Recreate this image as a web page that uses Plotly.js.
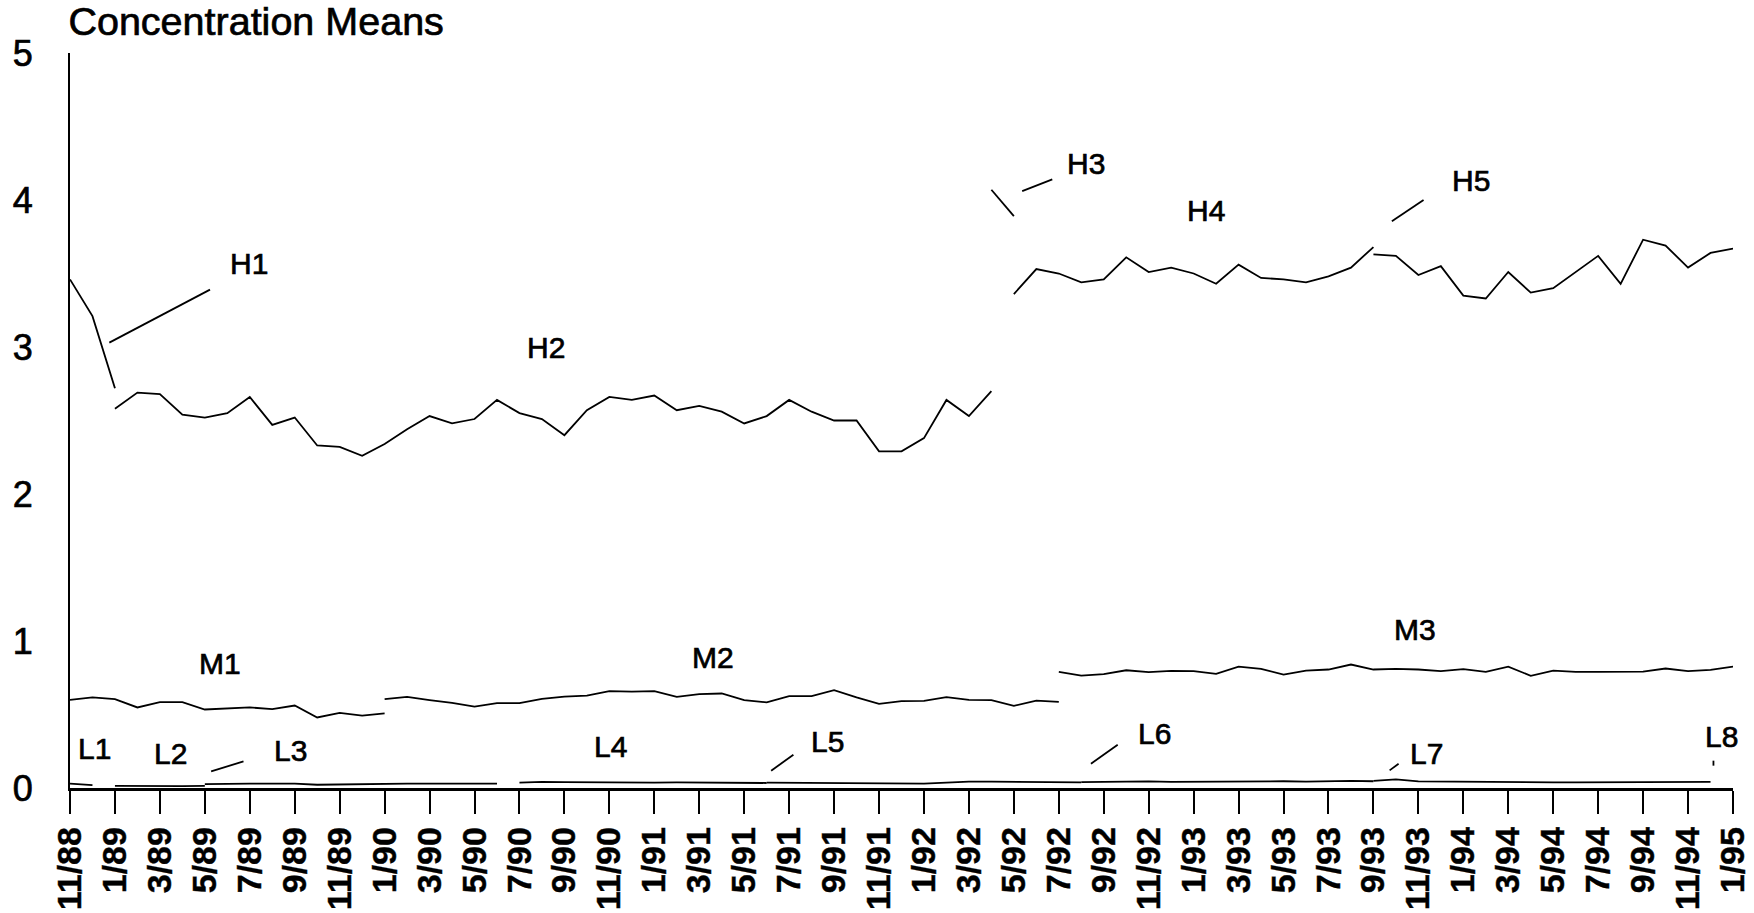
<!DOCTYPE html>
<html>
<head>
<meta charset="utf-8">
<script src="https://cdn.plot.ly/plotly-3.0.1.min.js"></script>
<style>
  html, body { margin: 0; padding: 0; background: #fff; }
  #chart { width: 1754px; height: 913px; }
  #chart .main-svg text { stroke: #000; stroke-width: 0.7px; }
  #chart .main-svg .xtick text { stroke-width: 0.4px; }
</style>
</head>
<body>
<div id="chart"></div>
<script>
// ---- categories (months) ----
const months = [
  '11/88','12/88',
  '1/89','2/89','3/89','4/89','5/89','6/89','7/89','8/89','9/89','10/89','11/89','12/89',
  '1/90','2/90','3/90','4/90','5/90','6/90','7/90','8/90','9/90','10/90','11/90','12/90',
  '1/91','2/91','3/91','4/91','5/91','6/91','7/91','8/91','9/91','10/91','11/91','12/91',
  '1/92','2/92','3/92','4/92','5/92','6/92','7/92','8/92','9/92','10/92','11/92','12/92',
  '1/93','2/93','3/93','4/93','5/93','6/93','7/93','8/93','9/93','10/93','11/93','12/93',
  '1/94','2/94','3/94','4/94','5/94','6/94','7/94','8/94','9/94','10/94','11/94','12/94',
  '1/95'
];
const tickLabels = [
  '11/88','1/89','3/89','5/89','7/89','9/89','11/89','1/90','3/90','5/90','7/90','9/90',
  '11/90','1/91','3/91','5/91','7/91','9/91','11/91','1/92','3/92','5/92','7/92','9/92',
  '11/92','1/93','3/93','5/93','7/93','9/93','11/93','1/94','3/94','5/94','7/94','9/94',
  '11/94','1/95'
];
const yTicks = [0, 1, 2, 3, 4, 5];

// ---- series (name, first month, monthly means) ----
const H1start = '11/88';
const H1 = [3.46, 3.21, 2.72];
const H2start = '1/89';
const H2 = [2.58, 2.69, 2.68, 2.54, 2.52, 2.55, 2.66, 2.47, 2.52, 2.33, 2.32, 2.26, 2.34, 2.44,
            2.53, 2.48, 2.51, 2.64, 2.55, 2.51, 2.40, 2.57, 2.66, 2.64, 2.67, 2.57, 2.60, 2.56,
            2.48, 2.53, 2.64, 2.56, 2.50, 2.50, 2.29, 2.29, 2.38, 2.64, 2.53, 2.70];
const H3start = '4/92';
const H3 = [4.07, 3.89];
const H4start = '5/92';
const H4 = [3.36, 3.53, 3.50, 3.44, 3.46, 3.61, 3.51, 3.54, 3.50, 3.43, 3.56, 3.47, 3.46,
            3.44, 3.48, 3.54, 3.68];
const H5start = '9/93';
const H5 = [3.63, 3.62, 3.49, 3.55, 3.35, 3.33, 3.51, 3.37, 3.40, 3.51, 3.62, 3.43, 3.73,
            3.69, 3.54, 3.64, 3.67];

const M1start = '11/88';
const M1 = [0.600, 0.616, 0.605, 0.548, 0.584, 0.584, 0.534, 0.543, 0.548, 0.537, 0.561,
            0.480, 0.511, 0.493, 0.507];
const M2start = '1/90';
const M2 = [0.605, 0.620, 0.598, 0.579, 0.554, 0.577, 0.577, 0.607, 0.622, 0.629, 0.659,
            0.656, 0.659, 0.620, 0.638, 0.643, 0.598, 0.582, 0.625, 0.625, 0.666, 0.616,
            0.573, 0.591, 0.593, 0.618, 0.600, 0.598, 0.559, 0.595, 0.586];
const M3start = '7/92';
const M3 = [0.790, 0.765, 0.774, 0.801, 0.788, 0.797, 0.795, 0.776, 0.826, 0.810, 0.772,
            0.799, 0.806, 0.840, 0.806, 0.810, 0.806, 0.795, 0.808, 0.790, 0.826, 0.763,
            0.799, 0.790, 0.790, 0.790, 0.792, 0.813, 0.795, 0.804, 0.826];

const L1start = '11/88';
const L1 = [0.030, 0.020];
const L2start = '1/89';
const L2 = [0.015, 0.013, 0.013, 0.013, 0.015];
const L3start = '5/89';
const L3 = [0.027, 0.030, 0.030, 0.030, 0.030, 0.022, 0.025, 0.028, 0.030, 0.030, 0.030,
            0.030, 0.030, 0.030];
const L4start = '7/90';
const L4 = [0.036, 0.042, 0.040, 0.038, 0.036, 0.038, 0.036, 0.038, 0.036, 0.038, 0.036, 0.034];
const L5start = '6/91';
const L5 = [0.036, 0.035, 0.037, 0.035, 0.033, 0.031, 0.031, 0.030, 0.036, 0.044, 0.043,
            0.042, 0.036, 0.036, 0.038];
const L6start = '8/92';
const L6 = [0.040, 0.042, 0.046, 0.045, 0.042, 0.043, 0.040, 0.041, 0.044, 0.046, 0.043,
            0.046, 0.048, 0.046];
const L7start = '9/93';
const L7 = [0.048, 0.059, 0.045, 0.043, 0.043, 0.040, 0.038, 0.037, 0.038, 0.038, 0.038,
            0.040, 0.042, 0.043, 0.043, 0.042];
const L8start = '1/95';
const L8 = [0.040];

const segments = [
  ['H1', H1start, H1], ['H2', H2start, H2], ['H3', H3start, H3], ['H4', H4start, H4], ['H5', H5start, H5],
  ['M1', M1start, M1], ['M2', M2start, M2], ['M3', M3start, M3],
  ['L1', L1start, L1], ['L2', L2start, L2], ['L3', L3start, L3], ['L4', L4start, L4],
  ['L5', L5start, L5], ['L6', L6start, L6], ['L7', L7start, L7], ['L8', L8start, L8]
];

const traces = segments.map(([name, start, vals]) => {
  const s = months.indexOf(start);
  return {
    type: 'scatter', mode: 'lines', name: name,
    x: months.slice(s, s + vals.length), y: vals,
    line: { color: '#000', width: 1.8 },
    hoverinfo: 'x+y+name'
  };
});

// ---- segment labels (placed in data coords: month index, value) ----
const labelFont = { family: 'Liberation Sans, Arial, sans-serif', size: 30, color: '#000' };
const labelPos = [
  ['H1', 7.97, 3.57], ['H2', 21.2, 3.0], ['H3', 45.2, 4.25], ['H4', 50.55, 3.93], ['H5', 62.35, 4.13],
  ['M1', 6.67, 0.85], ['M2', 28.6, 0.887], ['M3', 59.86, 1.077],
  ['L1', 1.09, 0.27], ['L2', 4.48, 0.233], ['L3', 9.81, 0.256], ['L4', 24.06, 0.28],
  ['L5', 33.7, 0.317], ['L6', 48.26, 0.37], ['L7', 60.36, 0.233], ['L8', 73.5, 0.347]
];
const annotations = labelPos.map(([t, x, y]) => ({
  text: t, x: x, y: y, xref: 'x', yref: 'y', showarrow: false,
  xanchor: 'center', yanchor: 'middle', font: labelFont
}));

const leader = [
  [1.75, 3.03, 6.23, 3.39],
  [42.37, 4.06, 43.71, 4.14],
  [58.82, 3.856, 60.23, 4.0],
  [6.28, 0.113, 7.72, 0.181],
  [31.2, 0.118, 32.19, 0.226],
  [45.43, 0.165, 46.62, 0.294],
  [58.72, 0.12, 59.12, 0.165],
  [73.13, 0.152, 73.13, 0.186]
];
const shapes = leader.map(([x0, y0, x1, y1]) => ({
  type: 'line', xref: 'x', yref: 'y', x0: x0, y0: y0, x1: x1, y1: y1,
  line: { color: '#000', width: 1.8 }
}));

const layout = {
  width: 1754, height: 913,
  paper_bgcolor: '#fff', plot_bgcolor: '#fff',
  showlegend: false,
  margin: { l: 70, r: 21, t: 53, b: 125, pad: 0 },
  title: {
    text: 'Concentration Means',
    xref: 'container', yref: 'container',
    x: 0.039, xanchor: 'left', y: 0.977, yanchor: 'middle',
    font: { family: 'Liberation Sans, Arial, sans-serif', size: 39.5, color: '#000' }
  },
  xaxis: {
    type: 'category', range: [0, 74], autorange: false,
    tickmode: 'array', tickvals: tickLabels, ticktext: tickLabels,
    tickangle: -90, ticks: 'outside', ticklen: 23, tickwidth: 2, tickcolor: '#000',
    showline: true, linecolor: '#000', linewidth: 2.5,
    showgrid: false, zeroline: false,
    tickfont: { family: 'Liberation Sans, Arial, sans-serif', size: 34, color: '#000', weight: 'bold' }
  },
  yaxis: {
    range: [0, 5], autorange: false,
    tickmode: 'array', tickvals: yTicks, ticktext: yTicks.map(String),
    ticks: 'outside', ticklen: 28, tickcolor: 'rgba(0,0,0,0)',
    showline: true, linecolor: '#000', linewidth: 2,
    showgrid: false, zeroline: false,
    tickfont: { family: 'Liberation Sans, Arial, sans-serif', size: 36, color: '#000' }
  },
  annotations: annotations,
  shapes: shapes
};

Plotly.newPlot('chart', traces, layout, { displayModeBar: false, staticPlot: true });
</script>
</body>
</html>
